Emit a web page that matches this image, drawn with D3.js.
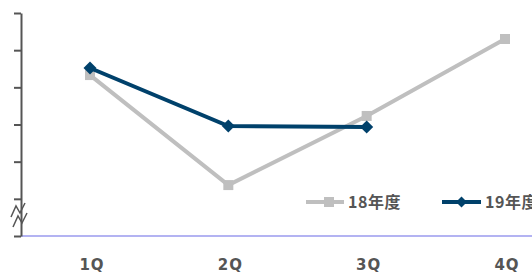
<!DOCTYPE html>
<html>
<head>
<meta charset="utf-8">
<script src="https://cdn.jsdelivr.net/npm/d3@7"></script>
<style>
  body { margin: 0; background: #fff; overflow: hidden; }
  svg { display: block; }
</style>
</head>
<body>
<svg id="chart"></svg>
<script>
// data
const quarters = ['1Q', '2Q', '3Q', '4Q'];
const fy18 = [4.33, 1.37, 3.23, 5.30];
const fy19 = [4.52, 2.96, 2.93];
const yTicks = [0, 1, 2, 3, 4, 5, 6];
const seriesNames = ['18年度', '19年度'];

const width = 532, height = 273;
const margin = { top: 13, left: 21, bottom: 37 };
const baseY = height - margin.bottom;

const svg = d3.select('#chart')
  .attr('width', width)
  .attr('height', height);

const x = d3.scalePoint()
  .domain(quarters)
  .range([90, 505]);
const y = d3.scaleLinear()
  .domain([0, 6])
  .range([baseY, margin.top]);

// 横の基準線
svg.append('line')
  .attr('x1', margin.left).attr('x2', width)
  .attr('y1', baseY).attr('y2', baseY)
  .attr('stroke', '#b3b3f2')
  .attr('stroke-width', 2);

// 縦軸
const axisLeft = d3.axisLeft(y)
  .tickValues(yTicks)
  .tickSizeInner(7)
  .tickSizeOuter(0)
  .tickFormat('');
const gy = svg.append('g')
  .attr('transform', `translate(${margin.left},0)`)
  .call(axisLeft);
gy.select('.domain').attr('stroke', '#555').attr('stroke-width', 2);
gy.selectAll('.tick line').attr('stroke', '#555').attr('stroke-width', 2);

// 省略記号
const breakMark = [
  [[11, 217], [16, 206], [20, 213], [25, 203]],
  [[13, 227], [18, 216], [22, 223], [27, 213]],
];
svg.selectAll('.break')
  .data(breakMark)
  .enter().append('path')
  .attr('class', 'break')
  .attr('d', d => d3.line()(d))
  .attr('fill', 'none')
  .attr('stroke', '#555')
  .attr('stroke-width', 1.5);

// x ラベル
svg.selectAll('.xlabel')
  .data(quarters)
  .enter().append('text')
  .attr('class', 'xlabel')
  .attr('x', d => x(d) + 2)
  .attr('y', 270)
  .attr('text-anchor', 'middle')
  .attr('font-family', '"DejaVu Sans", sans-serif')
  .attr('font-weight', 'bold')
  .attr('font-size', 15)
  .attr('letter-spacing', 1)
  .attr('fill', '#555')
  .text(d => d);

const line = d3.line()
  .x((d, i) => x(quarters[i]))
  .y(d => y(d));

const square = d3.symbol().type(d3.symbolSquare).size(100);
const diamond = d3.symbol().type(d3.symbolSquare).size(85);

// 18年度
svg.append('path')
  .attr('d', line(fy18))
  .attr('fill', 'none')
  .attr('stroke', '#bfbfbf')
  .attr('stroke-width', 4);
svg.selectAll('.m18')
  .data(fy18)
  .enter().append('path')
  .attr('class', 'm18')
  .attr('transform', (d, i) => `translate(${x(quarters[i])},${y(d)})`)
  .attr('d', square())
  .attr('fill', '#bfbfbf');

// 19年度
svg.append('path')
  .attr('d', line(fy19))
  .attr('fill', 'none')
  .attr('stroke', '#00416b')
  .attr('stroke-width', 4);
svg.selectAll('.m19')
  .data(fy19)
  .enter().append('path')
  .attr('class', 'm19')
  .attr('transform', (d, i) => `translate(${x(quarters[i])},${y(d)}) rotate(45)`)
  .attr('d', diamond())
  .attr('fill', '#00416b');

// 凡例 (19年度 is cut at the right edge, as in the source)
const legend = [
  { name: seriesNames[0], x0: 306, x1: 344, color: '#bfbfbf', sym: square, rot: 0 },
  { name: seriesNames[1], x0: 442, x1: 481, color: '#00416b', sym: d3.symbol().type(d3.symbolSquare).size(60), rot: 45 },
];
const lg = svg.selectAll('.legend')
  .data(legend)
  .enter().append('g')
  .attr('class', 'legend');
lg.append('line')
  .attr('x1', d => d.x0).attr('x2', d => d.x1)
  .attr('y1', 202).attr('y2', 202)
  .attr('stroke', d => d.color)
  .attr('stroke-width', 4);
lg.append('path')
  .attr('transform', d => `translate(${(d.x0 + d.x1) / 2 + (d.rot ? 0 : 4)},202) rotate(${d.rot})`)
  .attr('d', d => d.sym())
  .attr('fill', d => d.color);
lg.append('text')
  .attr('x', d => d.x1 + 4)
  .attr('y', 202)
  .attr('dy', '0.36em')
  .attr('font-family', '"Noto Sans CJK JP", sans-serif')
  .attr('font-weight', 'bold')
  .attr('font-size', 16)
  .attr('letter-spacing', 0.5)
  .attr('fill', '#555')
  .text(d => d.name);
</script>
</body>
</html>
